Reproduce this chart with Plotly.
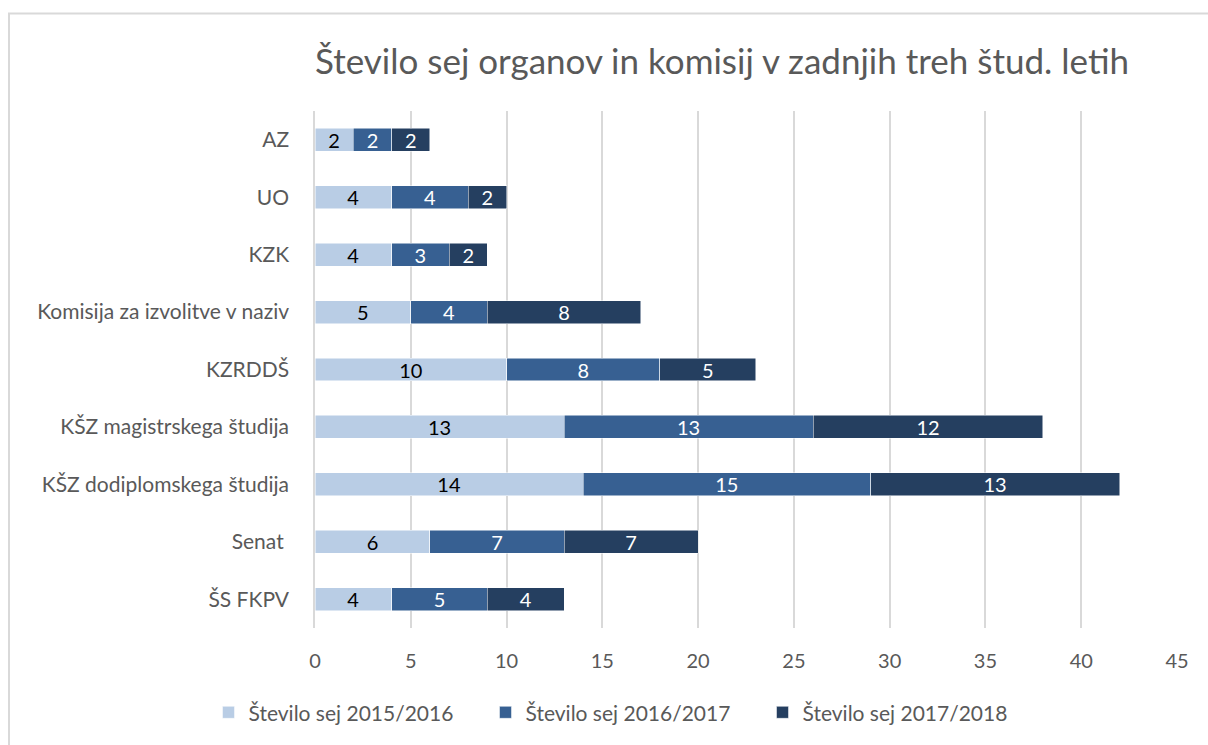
import plotly.graph_objects as go

categories = ["AZ", "UO", "KZK", "Komisija za izvolitve v naziv", "KZRDDŠ",
              "KŠZ magistrskega študija", "KŠZ dodiplomskega študija", "Senat ", "ŠS FKPV"]
s2015 = [2, 4, 4, 5, 10, 13, 14, 6, 4]
s2016 = [2, 4, 3, 4, 8, 13, 15, 7, 5]
s2017 = [2, 2, 2, 8, 5, 12, 13, 7, 4]
series_names = ["Število sej 2015/2016", "Število sej 2016/2017", "Število sej 2017/2018"]
colors = ["#B9CDE5", "#376092", "#253F60"]
text_colors = ["#000000", "#FFFFFF", "#FFFFFF"]
x_ticks = [0, 5, 10, 15, 20, 25, 30, 35, 40, 45]
title = "Število sej organov in komisij v zadnjih treh štud. letih"

FONT = "Lato"

fig = go.Figure()
for name, vals, col, tcol in zip(series_names, [s2015, s2016, s2017], colors, text_colors):
    fig.add_trace(go.Bar(
        y=categories, x=vals, name=name, orientation="h",
        marker=dict(color=col, line=dict(color="white", width=0.5)),
        text=vals, textposition="inside", insidetextanchor="middle", textangle=0,
        textfont=dict(color=tcol, size=20, family=FONT),
        constraintext="none",
    ))

L, R, T, B = 315, 31, 111, 115
W, H = 1208, 745
pw, ph = W - L - R, H - T - B

def px_x(p):
    return (p - L) / pw

def px_y(p):
    return (H - B - p) / ph

fig.update_layout(
    width=W, height=H,
    barmode="stack", bargap=0.6,
    plot_bgcolor="white", paper_bgcolor="white",
    margin=dict(l=L, r=R, t=T, b=B),
    font=dict(family=FONT, color="#595959", size=20),
    title=dict(text=title, x=px_x(722), xanchor="center", xref="paper",
               y=1 - 62 / H, yanchor="middle",
               font=dict(size=35, color="#595959", family=FONT)),
    legend=dict(orientation="h", x=px_x(624), xanchor="center", y=px_y(715), yanchor="middle",
                font=dict(size=21, color="#595959", family=FONT), itemwidth=30,
                entrywidth=232, entrywidthmode="pixels",
                traceorder="normal", tracegroupgap=0),
    xaxis=dict(range=[0, 45], tickvals=x_ticks, showgrid=True, gridcolor="#D9D9D9",
               gridwidth=1.5, zeroline=False, showline=False,
               tickfont=dict(size=20, color="#595959", family=FONT), ticklabelstandoff=19),
    yaxis=dict(categoryorder="array", categoryarray=categories, autorange="reversed",
               showline=True, linecolor="#D9D9D9", linewidth=1.5,
               tickfont=dict(size=21, color="#595959", family=FONT), ticklabelstandoff=20,
               showgrid=False),
    shapes=[dict(type="path", xref="paper", yref="paper",
                 path=f"M {px_x(9)} {px_y(760)} L {px_x(9)} {px_y(13)} L {px_x(1230)} {px_y(13)}",
                 line=dict(color="#D9D9D9", width=2))],
)

fig.write_html("out.html", config={"displayModeBar": False},
               post_script="document.body.style.margin='0px';")
